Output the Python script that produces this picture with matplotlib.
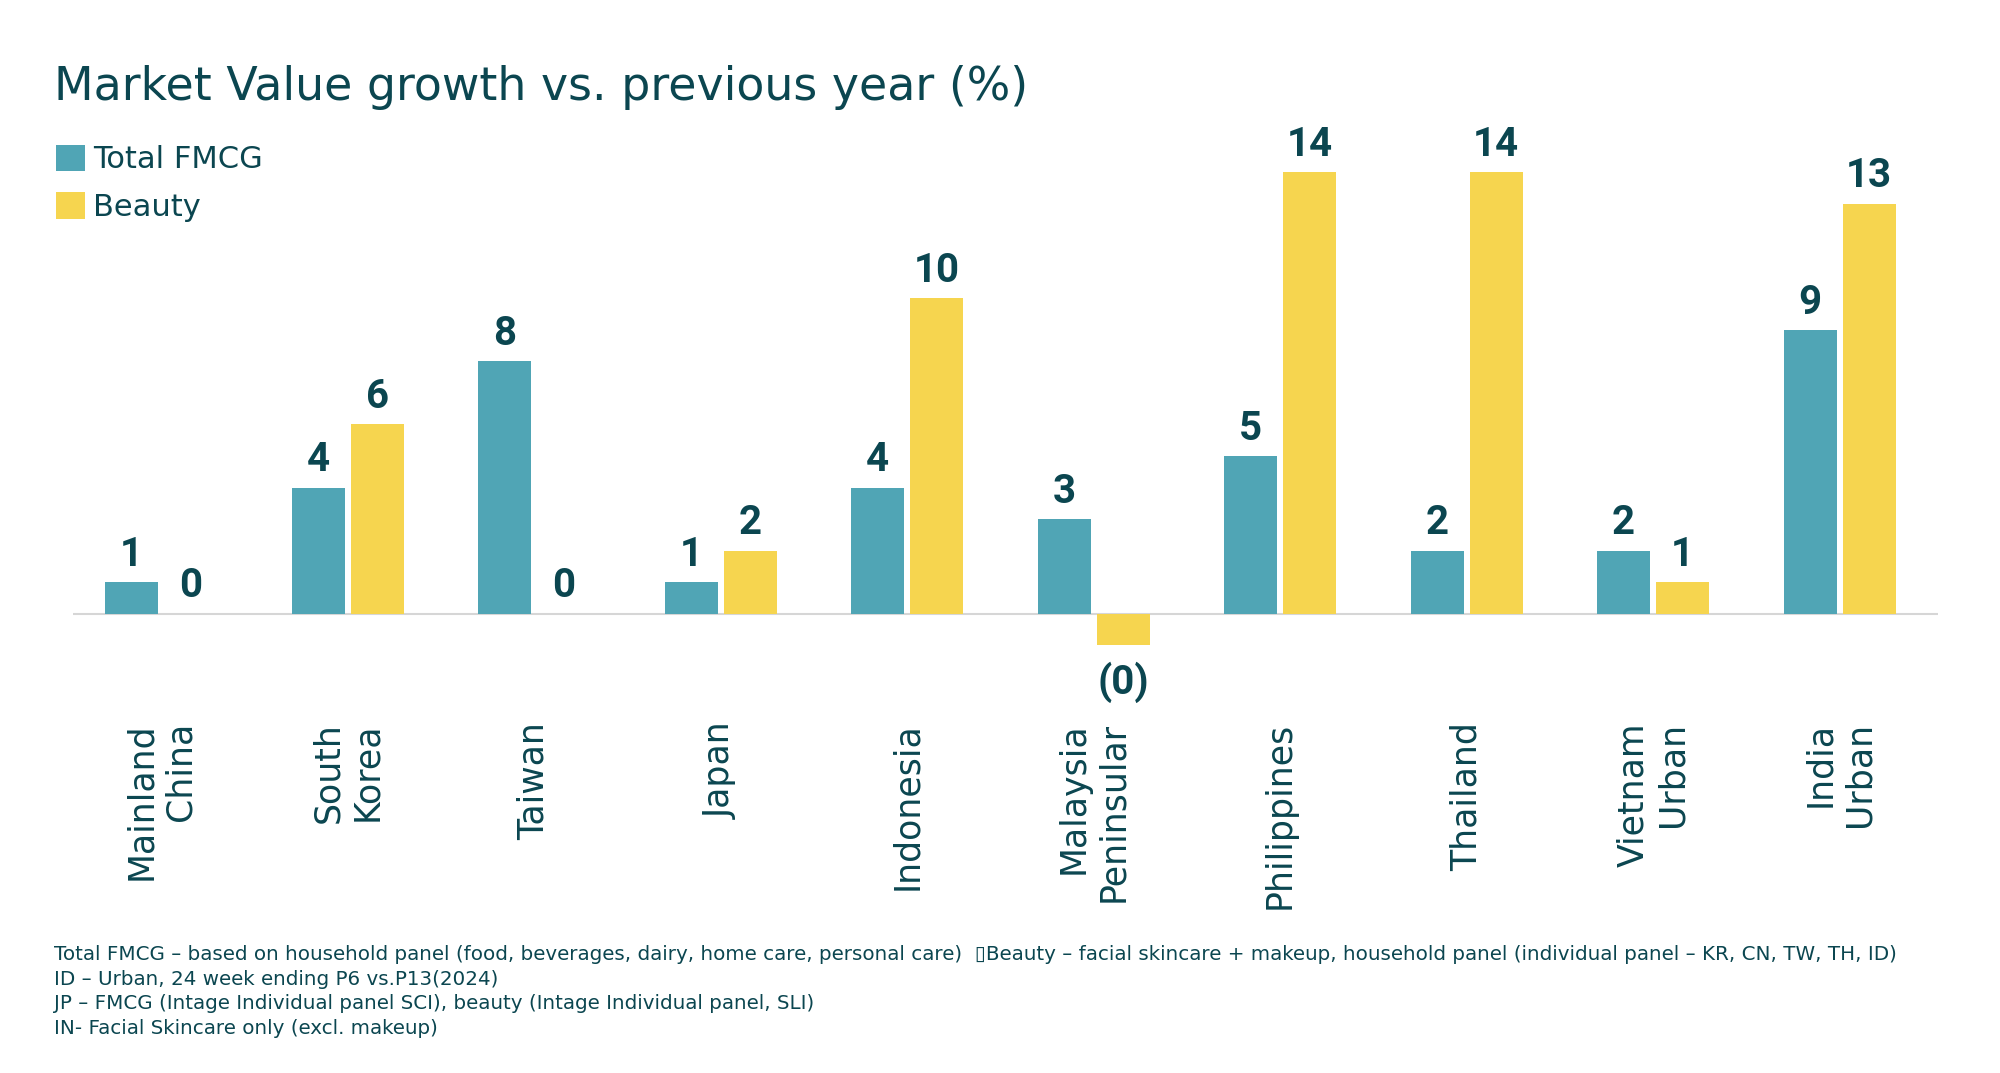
import matplotlib
matplotlib.use("Agg")
import matplotlib.pyplot as plt
import numpy as np

# data
markets = ["Mainland\nChina", "South\nKorea", "Taiwan", "Japan", "Indonesia",
           "Malaysia\nPeninsular", "Philippines", "Thailand", "Vietnam\nUrban",
           "India\nUrban"]
fmcg = [1, 4, 8, 1, 4, 3, 5, 2, 2, 9]
beauty = [0, 6, 0, 2, 10, -1, 14, 14, 1, 13]
fmcg_labels = ["1", "4", "8", "1", "4", "3", "5", "2", "2", "9"]
beauty_labels = ["0", "6", "0", "2", "10", "(0)", "14", "14", "1", "13"]

title = "Market Value growth vs. previous year (%)"
notes = ("Total FMCG \u2013 based on household panel (food, beverages, dairy, home care, personal care)  "
         "\u25afBeauty \u2013 facial skincare + makeup, household panel (individual panel \u2013 KR, CN, TW, TH, ID)\n"
         "ID \u2013 Urban, 24 week ending P6 vs.P13(2024)\n"
         "JP \u2013 FMCG (Intage Individual panel SCI), beauty (Intage Individual panel, SLI)\n"
         "IN- Facial Skincare only (excl. makeup)")

TEAL = "#50a5b5"
YELLOW = "#f6d54f"
DARK = "#0b4650"

fig = plt.figure(figsize=(20, 10.73), dpi=100)
ax = fig.add_axes([0.0367, 0.340, 0.9325, 0.5435])

x = np.arange(len(markets))
w = 0.284
off = 0.158
b1 = ax.bar(x - off, fmcg, w, color=TEAL, label="Total FMCG")
b2 = ax.bar(x + off, beauty, w, color=YELLOW, label="Beauty")


def put_label(xp, v, t):
    if v < 0:
        ax.annotate(t, (xp, v), xytext=(0, -12), textcoords="offset points",
                    ha="center", va="top", fontsize=29, fontweight="bold",
                    color=DARK, family="Roboto")
    else:
        ax.annotate(t, (xp, v), xytext=(0, 6), textcoords="offset points",
                    ha="center", va="bottom", fontsize=29, fontweight="bold",
                    color=DARK, family="Roboto")


for xi, v, t in zip(x, fmcg, fmcg_labels):
    put_label(xi - off, v, t)
for xi, v, t in zip(x, beauty, beauty_labels):
    put_label(xi + off, v, t)

ax.axhline(0, color="#d6d6d6", lw=1.5, zorder=0)
ax.set_xlim(-0.47, 9.53)
ax.set_ylim(-3, 15.5)
ax.set_yticks([])
ax.set_xticks(x)
ax.set_xticklabels(markets, rotation=90, fontsize=25, color=DARK,
                   family="DejaVu Sans", multialignment="right")
ax.tick_params(axis="x", length=0, pad=10)
for s in ax.spines.values():
    s.set_visible(False)

leg = ax.legend(loc="upper left", bbox_to_anchor=(-0.0157, 0.987), frameon=False,
                fontsize=22, handlelength=0.95, handleheight=0.95,
                handletextpad=0.25, labelspacing=0.58, borderaxespad=0)
for t in leg.get_texts():
    t.set_color(DARK)

fig.text(0.027, 1 - 100 / 1073, title, fontsize=33, color=DARK, va="baseline")
fig.text(0.027, 1 - 945 / 1073, notes, fontsize=14.3, color=DARK, va="top",
         linespacing=1.38)

fig.savefig("out.png", dpi=100)
